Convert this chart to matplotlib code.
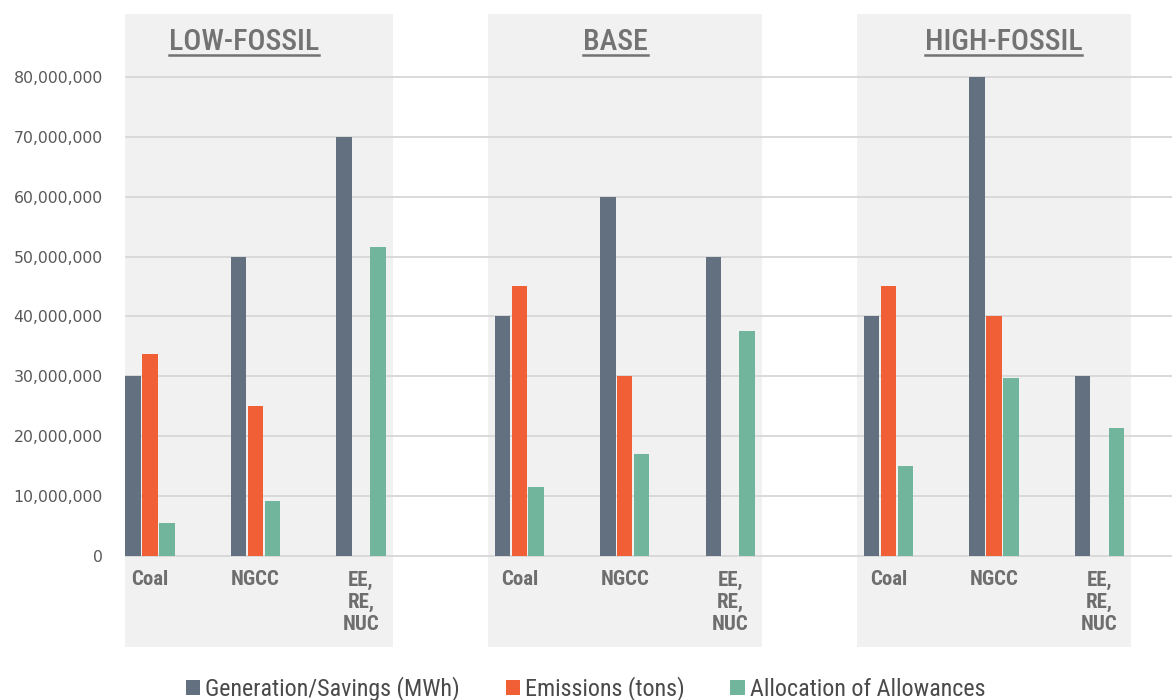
import numpy as np
import matplotlib
matplotlib.use("Agg")
import matplotlib.pyplot as plt
import matplotlib.font_manager as fm
from matplotlib.patches import Rectangle
from matplotlib.lines import Line2D
from matplotlib.ticker import FuncFormatter

# scenario data
scenarios = ["LOW-FOSSIL", "BASE", "HIGH-FOSSIL"]
categories = ["Coal", "NGCC", "EE,\nRE,\nNUC"]
series = ["Generation/Savings (MWh)", "Emissions (tons)", "Allocation of Allowances"]

generation = [30e6, 50e6, 70e6, 40e6, 60e6, 50e6, 40e6, 80e6, 30e6]
emissions = [33.7e6, 25e6, 0, 45e6, 30e6, 0, 45e6, 40e6, 0]
allocation = [5.5e6, 9.2e6, 51.6e6, 11.5e6, 17.1e6, 37.5e6, 15e6, 29.7e6, 21.3e6]

yticks = np.arange(0, 80e6 + 1, 10e6)

colors = ["#637080", "#F15F36", "#70B59C"]

# pick a narrow face for the headings and labels if one is installed
entries = fm.fontManager.ttflist
names = {f.name for f in entries}
narrow = None
for n in ["Roboto Condensed", "Liberation Sans Narrow", "Open Sans Condensed",
          "Noto Sans Condensed", "DejaVu Sans Condensed"]:
    if n in names:
        narrow = {"family": [n, "DejaVu Sans"], "fontstretch": "normal"}
        break
if narrow is None:
    cond = [f for f in entries if "condensed" in str(f.stretch) or
            "Condensed" in f.fname or "Narrow" in f.fname]
    if cond:
        narrow = {"family": [cond[0].name, "DejaVu Sans"],
                  "fontstretch": "condensed"}
    else:
        narrow = {"family": ["Roboto", "DejaVu Sans"], "fontstretch": "normal"}

# x positions: three categories per scenario, 1.5 slot gap between scenarios
group_start = [0, 3.5, 7]
xpos = np.array([g + i for g in group_start for i in range(3)])
group_center = [g + 1 for g in group_start]

fig = plt.figure(figsize=(11.72, 7), dpi=100)
ax = fig.add_axes([125 / 1172, 40 / 700, 1047 / 1172, 655 / 700])
ax.set_xlim(-0.237, 9.687)
ax.set_ylim(-17.36e6, 91.99e6)

# shaded scenario panels
for c in group_center:
    ax.add_patch(Rectangle((c - 1.3, -15.2e6), 2.6, 105.7e6,
                           facecolor="#f1f1f1", edgecolor="none", zorder=0))

# gridlines
for t in yticks:
    ax.axhline(t, color="#d9d9d9", lw=1.4, zorder=1)

w = 0.145
step = 0.16
for k, vals in enumerate([generation, emissions, allocation]):
    ax.bar(xpos + (k - 1) * step, vals, width=w, color=colors[k],
           label=series[k], zorder=2)

ax.set_yticks(yticks)
ax.yaxis.set_major_formatter(FuncFormatter(lambda v, p: f"{int(v):,}"))
ax.tick_params(axis="y", length=0, pad=16, labelsize=11.3, labelcolor="#595959")
ax.tick_params(axis="x", length=0, labelbottom=False)
for s in ax.spines.values():
    s.set_visible(False)

# category labels under each bar cluster
for i, x in enumerate(xpos):
    ax.text(x, -2.4e6, categories[i % 3], ha="center", va="top",
            fontsize=15, color="#6e6e6e", weight="bold",
            linespacing=1.2, **narrow)

# scenario titles, underlined
title_x = [0.89, 4.41, 8.09]
titles = []
for name, x in zip(scenarios, title_x):
    titles.append(ax.text(x, 85.8e6, name, ha="center", va="center",
                          fontsize=21.5, color="#737373", weight="medium",
                          **narrow))

handles, labels = ax.get_legend_handles_labels()
fig.legend(handles, labels, loc="center", bbox_to_anchor=(0.4996, 0.0157),
           ncol=3, frameon=False, handlelength=0.6, handleheight=0.6,
           handletextpad=0.2, columnspacing=1.9, borderpad=0,
           prop=fm.FontProperties(size=17.3, stretch=narrow["fontstretch"],
                                  family=narrow["family"]),
           labelcolor="#4a4a4a")

fig.canvas.draw()
r = fig.canvas.get_renderer()
inv = fig.transFigure.inverted()
for t in titles:
    bb = t.get_window_extent(r)
    (x0, y0), (x1, _) = inv.transform([(bb.x0, bb.y0), (bb.x1, bb.y1)])
    fig.add_artist(Line2D([x0, x1], [y0 + 0.001, y0 + 0.001],
                          color="#737373", lw=1.8))

fig.savefig("out.png", dpi=100)
